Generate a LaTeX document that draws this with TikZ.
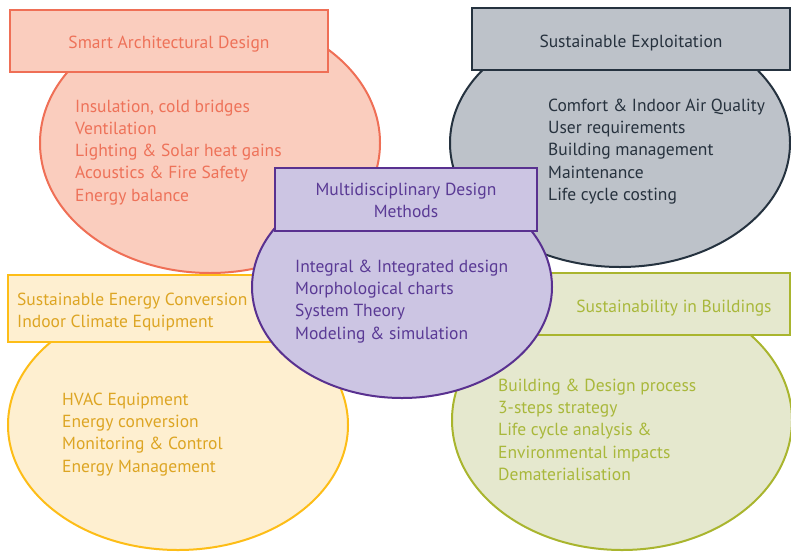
\documentclass[tikz,border=0pt]{standalone}
\usepackage{fontspec}
\setmainfont{PT Sans}
\usetikzlibrary{shapes.geometric}

\definecolor{archLine}{HTML}{EF6F56}
\definecolor{archFill}{HTML}{FACDBE}
\definecolor{archText}{HTML}{EE7259}
\definecolor{explLine}{HTML}{25323F}
\definecolor{explFill}{HTML}{BDC2C9}
\definecolor{explText}{HTML}{27323E}
\definecolor{convLine}{HTML}{FDBD17}
\definecolor{convFill}{HTML}{FEEFD0}
\definecolor{convText}{HTML}{DDA523}
\definecolor{sustLine}{HTML}{A9B52E}
\definecolor{sustFill}{HTML}{E5E8CE}
\definecolor{sustText}{HTML}{A9B83B}
\definecolor{mdmLine}{HTML}{593190}
\definecolor{mdmFill}{HTML}{CCC5E3}
\definecolor{mdmText}{HTML}{5A3A95}

\begin{document}
\begin{tikzpicture}[x=1pt,y=-1pt,
  blob/.style={ellipse,draw,line width=2pt,inner sep=0pt},
  head/.style={draw,line width=2pt,inner sep=0pt},
  txt/.style={inner sep=0pt,font=\fontsize{17.5}{22.3}\selectfont},
  items/.style={txt,anchor=north west,align=left}]
\clip (0,0) rectangle (791,552);

% smart architectural design
\node[blob,fill=archFill,draw=archLine,minimum width=340,minimum height=260] (arch) at (210,143) {};
\node[head,fill=archFill,draw=archLine,minimum width=318,minimum height=62] (archHead) at (169,41) {};
\node[txt,anchor=base,text=archText] (archTitle) at (169,48) {Smart Architectural Design};
\node[items,text=archText] (archList) at (75,99.5)
  {Insulation, cold bridges\\Ventilation\\Lighting \& Solar heat gains\\Acoustics \& Fire Safety\\Energy balance};

% sustainable exploitation
\node[blob,fill=explFill,draw=explLine,minimum width=340,minimum height=248] (expl) at (620,143) {};
\node[head,fill=explFill,draw=explLine,minimum width=318,minimum height=62] (explHead) at (631,39) {};
\node[txt,anchor=base,text=explText] (explTitle) at (631,47) {Sustainable Exploitation};
\node[items,text=explText] (explList) at (548,98.5)
  {Comfort \& Indoor Air Quality\\User requirements\\Building management\\Maintenance\\Life cycle costing};

% energy conversion
\node[blob,fill=convFill,draw=convLine,minimum width=340,minimum height=250] (conv) at (178,425) {};
\node[head,fill=convFill,draw=convLine,minimum width=318,minimum height=67] (convHead) at (167,308.5) {};
\node[items,text=convText] (convTitle) at (17,292.5)
  {Sustainable Energy Conversion\\Indoor Climate Equipment};
\node[items,text=convText] (convList) at (62,392.5)
  {HVAC Equipment\\Energy conversion\\Monitoring \& Control\\Energy Management};

% sustainability in buildings
\node[blob,fill=sustFill,draw=sustLine,minimum width=340,minimum height=260] (sust) at (622,420) {};
\node[head,fill=sustFill,draw=sustLine,minimum width=318,minimum height=62] (sustHead) at (631,304) {};
\node[txt,anchor=base,text=sustText] (sustTitle) at (674,312) {Sustainability in Buildings};
\node[items,text=sustText] (sustList) at (498,378.5)
  {Building \& Design process\\3-steps strategy\\Life cycle analysis \&\\Environmental impacts\\Dematerialisation};

% design methods in the middle
\node[blob,fill=mdmFill,draw=mdmLine,minimum width=300,minimum height=222] (mdm) at (402,287) {};
\node[head,fill=mdmFill,draw=mdmLine,minimum width=262,minimum height=63] (mdmHead) at (406,199.5) {};
\node[items,anchor=north,align=center,text=mdmText] (mdmTitle) at (406,182.5)
  {Multidisciplinary Design\\Methods};
\node[items,text=mdmText] (mdmList) at (295,259.5)
  {Integral \& Integrated design\\Morphological charts\\System Theory\\Modeling \& simulation};
\end{tikzpicture}
\end{document}
